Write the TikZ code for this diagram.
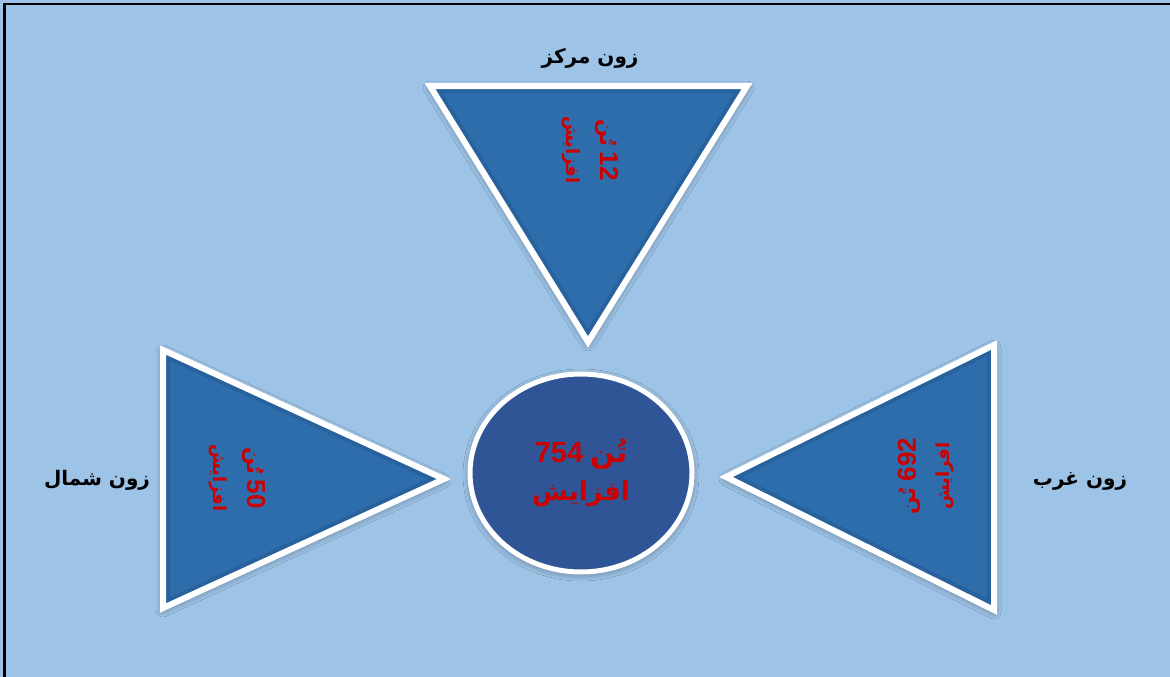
\documentclass[tikz,border=0pt]{standalone}
\usepackage{fontspec}
\TeXXeTstate=1
\newfontfamily\arabicfont[Script=Arabic]{DejaVu Sans}
\newfontfamily\numfont{Liberation Sans}
\usetikzlibrary{shadows.blur,shapes.geometric}
\definecolor{bgblue}{HTML}{9DC3E6}
\definecolor{triblue}{HTML}{2E6DAC}
\definecolor{triedge}{HTML}{1F4E80}
\definecolor{circblue}{HTML}{2F5597}
\definecolor{numred}{HTML}{CC0000}
\newcommand{\numtxt}[2]{{\numfont\bfseries\fontsize{#1}{#1}\selectfont #2}}
\newcommand{\artxt}[2]{{\arabicfont\bfseries\fontsize{#1}{#1}\selectfont\beginR #2\endR}}
\tikzset{
  softshadow/.style={blur shadow={shadow xshift=0pt, shadow yshift=-2pt, shadow blur radius=7pt, shadow opacity=45}},
  triborder/.style={draw=white, line width=6pt, line join=miter},
  bevel/.style={draw=triedge, line width=14pt, opacity=0.35},
  zone/.style={font=\arabicfont\bfseries\fontsize{20}{24}\selectfont, text=black, inner sep=0pt},
  val/.style={text=numred, align=center, inner sep=0pt, font=\fontsize{21}{34}\selectfont},
  bigval/.style={text=numred, align=center, inner sep=0pt, font=\fontsize{29}{38}\selectfont},
  frameline/.style={draw=black, line width=2.5pt},
}
\begin{document}
\begin{tikzpicture}[x=1pt,y=-1pt]
\useasboundingbox (0,0) rectangle (1170,677);
\fill[bgblue] (0,0) rectangle (1170,677);
\coordinate (fa) at (1170,4);
\coordinate (fb) at (4.5,4);
\coordinate (fc) at (4.5,677);
\draw[frameline] (fa) -- (fb) -- (fc);

% vertices
\coordinate (ta) at (430,86);
\coordinate (tb) at (747,86);
\coordinate (tc) at (588,342);
\coordinate (la) at (163,350);
\coordinate (lb) at (163,608);
\coordinate (lc) at (444,479);
\coordinate (ra) at (994,345);
\coordinate (rb) at (994,610);
\coordinate (rc) at (726,477);

% shadows
\path[softshadow, fill=triblue] (ta) -- (tb) -- (tc) -- cycle;
\path[softshadow, fill=triblue] (la) -- (lb) -- (lc) -- cycle;
\path[softshadow, fill=triblue] (ra) -- (rb) -- (rc) -- cycle;

% bevel effect and white border
\foreach \p/\q/\r in {ta/tb/tc, la/lb/lc, ra/rb/rc}{
  \begin{scope}
    \clip (\p) -- (\q) -- (\r) -- cycle;
    \draw[bevel] (\p) -- (\q) -- (\r) -- cycle;
  \end{scope}
  \draw[triborder] (\p) -- (\q) -- (\r) -- cycle;
}

% centre circle
\node[ellipse, minimum width=222pt, minimum height=198pt, fill=circblue, draw=white, line width=5pt, softshadow, bigval] (c) at (581,473)
  {\numtxt{29}{754}\hspace{7pt}\artxt{29}{تُن}\\\artxt{26}{افزایش}};

% triangle values
\node[val, rotate=-90] (vt) at (590,150)
  {\artxt{21}{تُن}\hspace{6pt}\numtxt{26}{12}\\\artxt{18}{افزایش}};
\node[val, rotate=-90] (vl) at (237,478)
  {\artxt{21}{تُن}\hspace{6pt}\numtxt{26}{50}\\\artxt{18}{افزایش}};
\node[val, rotate=90] (vr) at (926,476)
  {\artxt{21}{تُن}\hspace{6pt}\numtxt{26}{692}\\\artxt{18}{افزایش}};

% zone labels
\node[zone] (zc) at (590,58) {\beginR زون مرکز\endR};
\node[zone] (zn) at (97,480) {\beginR زون شمال\endR};
\node[zone] (zw) at (1080,481) {\beginR زون غرب\endR};
\end{tikzpicture}
\end{document}
